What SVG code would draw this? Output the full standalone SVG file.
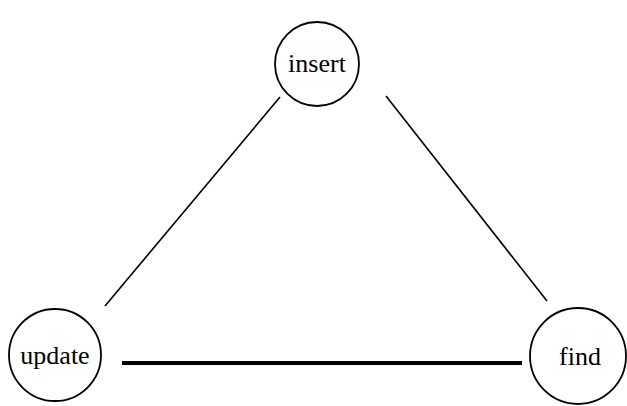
<svg xmlns="http://www.w3.org/2000/svg" width="627" height="406" viewBox="0 0 627 406">
<style>
.node{fill:#fff;stroke:#000;stroke-width:1.8}
.lbl{font-family:"Liberation Serif","DejaVu Serif",serif;font-size:26px;text-anchor:middle;fill:#000}
.e{stroke:#000;stroke-width:1.6;fill:none}
.thick{stroke-width:4}
</style>
<g id="connectors">
<line class="e" x1="280" y1="97" x2="105" y2="306"/>
<line class="e" x1="386" y1="96" x2="547" y2="301"/>
<line class="e thick" x1="122" y1="363" x2="522" y2="363"/>
</g>
<g id="insert">
<circle class="node" cx="317" cy="64" r="42"/>
<text class="lbl" x="317" y="72">insert</text>
</g>
<g id="update">
<circle class="node" cx="55" cy="355" r="46"/>
<text class="lbl" x="55" y="364">update</text>
</g>
<g id="find">
<circle class="node" cx="578" cy="356" r="48"/>
<text class="lbl" x="580" y="365">find</text>
</g>
</svg>
